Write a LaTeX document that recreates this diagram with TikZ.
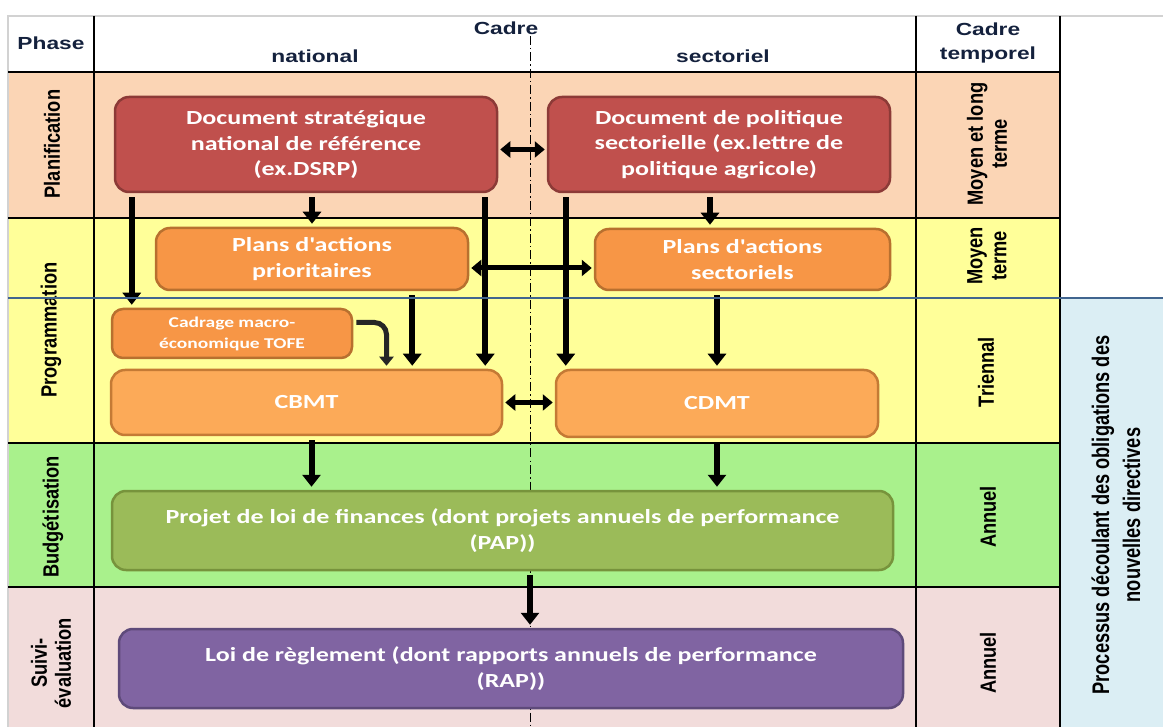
\documentclass[tikz,border=0pt]{standalone}
\usepackage{fontspec}
\newfontfamily\hdrfont[FakeStretch=1.3]{Liberation Sans}
\newfontfamily\lblfont[FakeStretch=0.83]{Liberation Sans}
\newfontfamily\procfont[FakeStretch=0.76]{Liberation Sans}
\newfontfamily\boxfont[FakeStretch=1.3]{Carlito}
\usetikzlibrary{arrows.meta}

\definecolor{planif}{HTML}{FBD5B5}
\definecolor{progr}{HTML}{FFFF99}
\definecolor{budget}{HTML}{A9F18C}
\definecolor{suivi}{HTML}{F2DCDB}
\definecolor{procbg}{HTML}{DBEEF4}
\definecolor{sepblue}{HTML}{41658F}
\definecolor{rouge}{HTML}{C0504D}
\definecolor{rougeb}{HTML}{8C3A37}
\definecolor{orangea}{HTML}{F79646}
\definecolor{orangeab}{HTML}{B8702F}
\definecolor{orangeb}{HTML}{FCAA58}
\definecolor{orangebb}{HTML}{C47A35}
\definecolor{vert}{HTML}{9BBB59}
\definecolor{vertb}{HTML}{77933C}
\definecolor{violet}{HTML}{8064A2}
\definecolor{violetb}{HTML}{5E4A7A}
\definecolor{hdrtext}{HTML}{14213D}

\tikzset{
  box/.style={draw, rounded corners=14pt, line width=2.5pt, text=white, align=center,
    inner sep=0pt, font=\boxfont\bfseries\fontsize{20}{25.5}\selectfont},
  hdr/.style={align=center, text=hdrtext, font=\hdrfont\bfseries\fontsize{17.5}{24}\selectfont},
  lbl/.style={rotate=90, align=center, font=\lblfont\bfseries\fontsize{22}{24}\selectfont},
  grid/.style={line width=2.5pt},
  arr/.style={line width=6pt, shorten <=4pt, shorten >=3pt, -{Triangle[width=18pt,length=12pt]}},
  dbl/.style={line width=5pt, shorten <=2pt, shorten >=2pt,
    {Triangle[width=16pt,length=10pt]}-{Triangle[width=16pt,length=10pt]}}
}

\begin{document}
\begin{tikzpicture}[x=1pt, y=-1pt]
    \useasboundingbox (0,0) rectangle (1163,727);

    % bandes des phases
    \fill[planif] (8,72) rectangle (1060,218);
    \fill[progr] (8,218) rectangle (1060,443);
    \fill[budget] (8,443) rectangle (1060,587);
    \fill[suivi] (8,587) rectangle (1060,727);
    \fill[procbg] (1060,298) rectangle (1163,727);

    % grille
    \draw[gray!35, line width=1.5pt] (1163,16) -- (8,16) -- (8,727);
    \foreach \x in {94,916,1060}
        \draw[grid] (\x,16) -- (\x,727);
    \foreach \y in {72,218,443,587}
        \draw[grid] (8,\y) -- (1060,\y);
    \coordinate (mid) at (530,36);
    \draw[line width=1pt, dash pattern=on 9pt off 3pt on 1.5pt off 3pt] (mid) -- (530,727);

    % en-tetes
    \node[hdr] (phase) at (51,43) {Phase};
    \node[hdr] (cadre) at (506,28) {Cadre};
    \node[hdr] (nat) at (315,56) {national};
    \node[hdr] (sect) at (723,56) {sectoriel};
    \node[hdr] (temp) at (988,43) {Cadre\\temporel};

    % phases
    \node[lbl] (planiflbl) at (52,144) {Planification};
    \node[lbl] (proglbl) at (51,330) {Programmation};
    \node[lbl] (budglbl) at (53,517) {Budgétisation};
    \node[lbl] (suivilbl) at (51,663) {Suivi-\\évaluation};

    % cadre temporel
    \node[lbl] (t1) at (987,144) {Moyen et long\\terme};
    \node[lbl] (t2) at (987,256) {Moyen\\terme};
    \node[lbl] (t3) at (986,372) {Triennal};
    \node[lbl] (t4) at (988,517) {Annuel};
    \node[lbl] (t5) at (988,663) {Annuel};
    \node[lbl, font=\procfont\bfseries\fontsize{24}{31}\selectfont] (proc) at (1116,515)
        {Processus découlant des obligations des\\nouvelles directives};

    % documents
    \node[box, fill=rouge, draw=rougeb, minimum width=382pt, minimum height=95pt] (dsn) at (306,144.5)
        {Document stratégique\\national de référence\\(ex.DSRP)};
    \node[box, fill=rouge, draw=rougeb, minimum width=342pt, minimum height=95pt] (dps) at (719,144.5)
        {Document de politique\\sectorielle (ex.lettre de\\politique agricole)};
    \node[box, fill=orangea, draw=orangeab, minimum width=312pt, minimum height=62pt] (pap) at (312,259)
        {Plans d'actions\\prioritaires};
    \node[box, fill=orangea, draw=orangeab, minimum width=295pt, minimum height=61pt] (pas) at (742.5,259.5)
        {Plans d'actions\\sectoriels};
    \node[box, fill=orangea, draw=orangeab, minimum width=240pt, minimum height=49pt, rounded corners=11pt,
        font=\boxfont\bfseries\fontsize{15}{21}\selectfont] (cad) at (232,333.5)
        {Cadrage macro-\\économique TOFE};
    \node[box, fill=orangeb, draw=orangebb, minimum width=391pt, minimum height=65pt] (cbmt) at (306.5,402.5) {CBMT};
    \node[box, fill=orangeb, draw=orangebb, minimum width=322pt, minimum height=67pt] (cdmt) at (717,403.5) {CDMT};
    \node[box, fill=vert, draw=vertb, minimum width=781pt, minimum height=79pt] (plf) at (502.5,530.5)
        {Projet de loi de finances (dont projets annuels de performance\\(PAP))};
    \node[box, fill=violet, draw=violetb, minimum width=784pt, minimum height=79pt] (lr) at (511,668.5)
        {Loi de règlement (dont rapports annuels de performance\\(RAP))};

    % liens
    \draw[dbl] ([yshift=-5pt]dsn.east) -- ([yshift=-5pt]dps.west);
    \draw[arr] (pap.north |- dsn.south) -- (pap.north);
    \draw[arr] ([xshift=-9pt]dps.south) -- ([xshift=-9pt]dps.south |- pas.north);
    \draw[arr] ([xshift=18pt]dsn.south west) -- ([xshift=18pt]dsn.south west |- cad.north);
    \draw[arr] ([xshift=-13pt]dsn.south east) -- ([xshift=-13pt]dsn.south east |- cbmt.north);
    \draw[arr] ([xshift=19pt]dps.south west) -- ([xshift=19pt]dps.south west |- cdmt.north);
    \draw[dbl] ([yshift=-9pt]pap.east) -- ([yshift=-9pt]pap.east -| pas.west);
    \draw[arr] ([xshift=-57pt]pap.south east) -- ([xshift=-57pt]pap.south east |- cbmt.north);
    \draw[arr] (cdmt.north |- pas.south) -- (cdmt.north);
    \draw[black!85, line width=5pt, rounded corners=12pt, shorten <=3pt, shorten >=3pt,
        -{Triangle[width=14pt,length=9pt]}] ([yshift=11pt]cad.east) -| ([xshift=80pt]cbmt.north);
    \draw[dbl] (cbmt.east) -- (cbmt.east -| cdmt.west);
    \draw[arr] ([xshift=5pt]cbmt.south) -- ([xshift=5pt]cbmt.south |- plf.north);
    \draw[arr] (cdmt.south) -- (cdmt.south |- plf.north);
    \draw[arr] (mid |- plf.south) -- (mid |- lr.north);

    % separation
    \draw[sepblue, line width=2.5pt] (8,298) -- (1163,298);
\end{tikzpicture}
\end{document}
